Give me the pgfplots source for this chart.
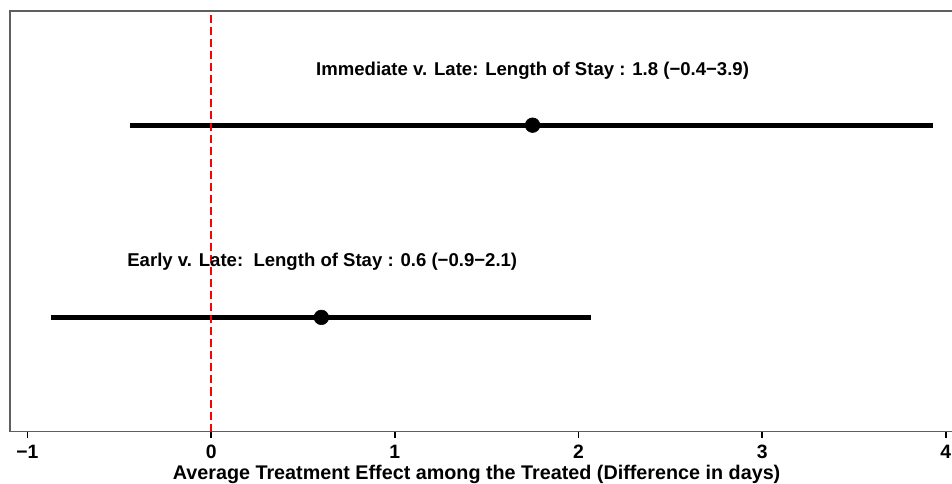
\documentclass[border=0pt]{standalone}
\usepackage{fontspec}
\setmainfont{Liberation Sans}
\usepackage{pgfplots}
\pgfplotsset{compat=1.18}
\definecolor{framegray}{RGB}{95,95,95}
\begin{document}
\begin{tikzpicture}
\begin{axis}[
  at={(0pt,0pt)}, anchor=south west,
  scale only axis, width=706.5pt, height=315pt,
  xmin=-1.095, xmax=4.04, ymin=0.406, ymax=2.594,
  xtick={-1,0,1,2,3,4}, xticklabels={−1,0,1,2,3,4}, ytick=\empty,
  xtick pos=left,
  tick align=outside, major tick length=4.5pt,
  tick style={black, line width=1.1pt},
  axis line style={framegray, line width=1.2pt},
  /pgf/number format/assume math mode=true,
  xticklabel style={font=\fontsize{14.5}{16}\selectfont\bfseries, inner sep=2pt, yshift=-3.5pt},
  xlabel={Average Treatment Effect among the Treated (Difference in days)},
  xlabel style={at={(axis description cs:0.5,0)}, anchor=north, inner sep=0pt, yshift=-25pt, xshift=-3.75pt, font=\fontsize{14.8}{16}\selectfont\bfseries},
  clip=false,
]
\addplot[black, line width=3.75pt] coordinates {(-0.44,2) (3.93,2)};
\addplot[black, line width=3.75pt] coordinates {(-0.87,1) (2.07,1)};
\addplot[red, line width=1.5pt, dash pattern=on 6pt off 3pt] coordinates {(0,0.406) (0,2.594)};
\addplot[black, only marks, mark=*, mark size=5.5pt] coordinates {(1.75,2) (0.60,1)};
\node[font=\fontsize{13.9}{15}\selectfont\bfseries, anchor=center] at (axis cs:1.75,2.285) {Immediate v. Late: Length of Stay : 1.8 (−0.4−3.9)};
\node[font=\fontsize{13.9}{15}\selectfont\bfseries, anchor=center] at (axis cs:0.605,1.29) {Early v. Late:\ \ Length of Stay : 0.6 (−0.9−2.1)};
\end{axis}
\pgfresetboundingbox
\path[use as bounding box] (-7.5pt,-39pt) rectangle (705.6pt,323.25pt);
\end{tikzpicture}
\end{document}
